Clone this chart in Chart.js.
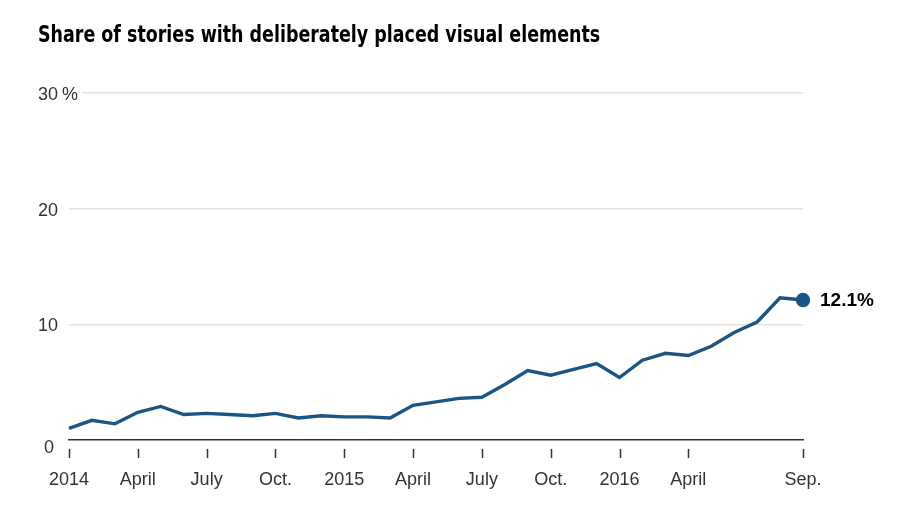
<!DOCTYPE html>
<html>
<head>
<meta charset="utf-8">
<script src="https://cdn.jsdelivr.net/npm/chart.js@4.4.0/dist/chart.umd.min.js"></script>
<style>
  html, body { margin: 0; padding: 0; background: #fff; }
  #wrap { position: relative; width: 916px; height: 510px; }
  #title {
    position: absolute; left: 38px; top: 21px;
    font-family: "Liberation Sans Narrow", "DejaVu Sans Condensed", sans-serif;
    font-weight: bold; font-size: 23px; color: #000; white-space: nowrap;
    display: inline-block; transform-origin: 0 0;
  }
  #chart { position: absolute; left: 0; top: 0; }
</style>
</head>
<body>
<div id="wrap">
  <canvas id="chart" width="916" height="510"></canvas>
  <span id="title">Share of stories with deliberately placed visual elements</span>
</div>
<script>
// monthly, Jan. 2014 to Sep. 2016
var months = ['2014-01','2014-02','2014-03','2014-04','2014-05','2014-06','2014-07','2014-08','2014-09','2014-10','2014-11','2014-12',
              '2015-01','2015-02','2015-03','2015-04','2015-05','2015-06','2015-07','2015-08','2015-09','2015-10','2015-11','2015-12',
              '2016-01','2016-02','2016-03','2016-04','2016-05','2016-06','2016-07','2016-08','2016-09'];
var share = [1.0, 1.7, 1.4, 2.4, 2.9, 2.2, 2.3, 2.2, 2.1, 2.3, 1.9, 2.1,
             2.0, 2.0, 1.9, 3.0, 3.3, 3.6, 3.7, 4.8, 6.0, 5.6, 6.1, 6.6,
             5.4, 6.9, 7.5, 7.3, 8.1, 9.3, 10.2, 12.3, 12.1];
var tickMonths = [0, 3, 6, 9, 12, 15, 18, 21, 24, 27, 32];
var tickLabels = ['2014', 'April', 'July', 'Oct.', '2015', 'April', 'July', 'Oct.', '2016', 'April', 'Sep.'];
var yTicks = [0, 10, 20, 30];
var lastLabel = '12.1%';

var lineColor = '#1b5583';
var last = share.length - 1;

// squeeze the title to the reference width (condensed face)
var title = document.getElementById('title');
title.style.transform = 'scaleX(' + (562 / title.offsetWidth) + ')';

var labelPlugin = {
    id: 'labels',
    afterDraw: function (chart) {
        var c = chart.ctx, y = chart.scales.y, x = chart.scales.x;
        var base = chart.chartArea.bottom;
        c.save();
        // tick marks, detached from the axis
        c.strokeStyle = '#333';
        c.lineWidth = 1.5;
        tickMonths.forEach(function (v) {
            var px = Math.round(x.getPixelForValue(v)) + 0.5;
            c.beginPath();
            c.moveTo(px, base + 9);
            c.lineTo(px, base + 18);
            c.stroke();
        });
        c.font = '18px "Liberation Sans", Arial, sans-serif';
        c.fillStyle = '#333';
        c.textBaseline = 'middle';
        c.textAlign = 'right';
        yTicks.forEach(function (v) {
            var py = y.getPixelForValue(v);
            if (v === 0) c.fillText('0', 54, py + 8);
            else c.fillText(String(v), 58, py + 2);
        });
        // the % sign on the top label
        var top = y.getPixelForValue(yTicks[yTicks.length - 1]);
        c.fillStyle = '#fff';
        c.fillRect(60, top - 3, 22, 6);
        c.fillStyle = '#333';
        c.textAlign = 'left';
        c.fillText('%', 62, top + 2);
        // value label at the last point
        var meta = chart.getDatasetMeta(0).data[last];
        c.font = 'bold 19px "Liberation Sans", Arial, sans-serif';
        c.fillStyle = '#000';
        c.fillText(lastLabel, meta.x + 17, meta.y + 1);
        c.restore();
    }
};

var ctx = document.getElementById('chart').getContext('2d');
var chart = new Chart(ctx, {
    type: 'line',
    data: {
        datasets: [{
            data: share.map(function (v, i) { return { x: i, y: v }; }),
            borderColor: lineColor,
            backgroundColor: lineColor,
            borderWidth: 3.4,
            tension: 0,
            clip: false,
            pointRadius: function (c) { return c.dataIndex === last ? 5.5 : 0; },
            pointHoverRadius: 0
        }]
    },
    options: {
        responsive: false,
        animation: false,
        layout: { padding: { top: 93, right: 113, bottom: 0, left: 0 } },
        plugins: { legend: { display: false }, tooltip: { enabled: false } },
        scales: {
            x: {
                type: 'linear',
                min: 0,
                max: months.length - 1,
                afterBuildTicks: function (s) { s.ticks = tickMonths.map(function (v) { return { value: v }; }); },
                afterFit: function (s) { s.height = 70; },
                border: { display: true, color: '#333', width: 1.5 },
                grid: { drawOnChartArea: false, drawTicks: false, tickLength: 17 },
                ticks: {
                    autoSkip: false,
                    maxRotation: 0,
                    padding: 29,
                    color: '#333',
                    font: { family: '"Liberation Sans", Arial, sans-serif', size: 18 },
                    callback: function (v) { return tickLabels[tickMonths.indexOf(v)]; }
                }
            },
            y: {
                min: 0,
                max: 30,
                afterBuildTicks: function (s) { s.ticks = yTicks.map(function (v) { return { value: v }; }); },
                afterFit: function (s) { s.width = 69; },
                border: { display: false },
                grid: {
                    drawTicks: false,
                    color: function (c) { return c.tick && c.tick.value === 0 ? 'rgba(0,0,0,0)' : '#e3e3e3'; },
                    lineWidth: 1.5
                },
                ticks: { display: false }
            }
        }
    },
    plugins: [labelPlugin]
});
</script>
</body>
</html>
